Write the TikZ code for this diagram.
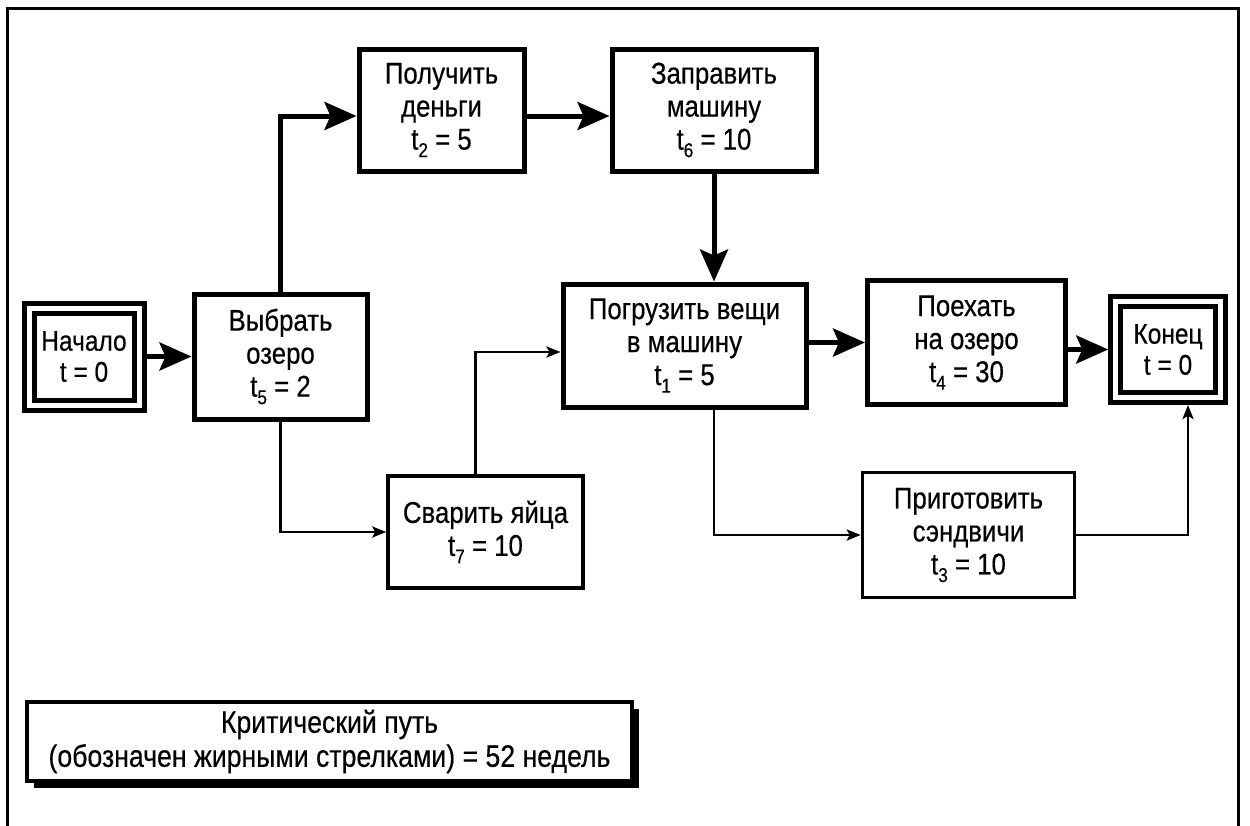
\documentclass[tikz,border=0pt]{standalone}
\usepackage{fontspec}
\setmainfont{Liberation Sans}[FakeStretch=0.86,FakeBold=0.4]
\usetikzlibrary{arrows.meta,shadows}
% duration label: t with a lowered index
\newcommand\tsub[1]{t\raisebox{-0.25em}{\fontsize{20}{20}\selectfont #1}}

\begin{document}
\begin{tikzpicture}[x=1pt,y=-1pt,
  every node/.style={inner sep=0pt, align=center, font=\fontsize{30}{33}\selectfont},
  boldbox/.style={draw, line width=5pt, fill=white},
  thinbox/.style={draw, line width=3.5pt, fill=white},
  termbox/.style={draw, line width=5pt, double, double distance=5pt, outer sep=7.5pt,
                  font=\fontsize{28.5}{31}\selectfont},
  crit/.style={line width=5pt, -{Stealth[length=32pt,width=28pt,inset=6pt]}},
  side/.style={line width=2.5pt, -{Stealth[length=14pt,width=11pt,inset=3pt]}},
]
\useasboundingbox (0,0) rectangle (1250,825);

% open frame
\draw[line width=3pt] (7,830) -- (7,8) -- (1238,8) -- (1238,830);

% activities
\node[termbox, minimum width=110pt, minimum height=97pt] (start) at (84,356.5) {Начало\\t = 0};
\node[boldbox, minimum width=173pt, minimum height=125pt] (choose) at (280.5,356.5) {Выбрать\\озеро\\\tsub{5} = 2};
\node[boldbox, minimum width=165pt, minimum height=122pt] (money) at (441.5,110) {Получить\\деньги\\\tsub{2} = 5};
\node[boldbox, minimum width=204pt, minimum height=122pt] (fuel) at (714,110) {Заправить\\машину\\\tsub{6} = 10};
\node[boldbox, minimum width=243pt, minimum height=123pt] (load) at (684.5,345.5) {Погрузить вещи\\в машину\\\tsub{1} = 5};
\node[boldbox, minimum width=198pt, minimum height=124pt] (drive) at (966.5,342.5) {Поехать\\на озеро\\\tsub{4} = 30};
\node[termbox, minimum width=104.5pt, minimum height=96pt] (end) at (1168,349.5) {Конец\\t = 0};
\node[thinbox, minimum width=195pt, minimum height=112pt] (eggs) at (485.5,532) {Сварить яйца\\\tsub{7} = 10};
\node[thinbox, minimum width=212pt, minimum height=125pt] (sandw) at (968.5,535) {Приготовить\\сэндвичи\\\tsub{3} = 10};

% legend
\node[thinbox, line width=4pt, minimum width=605pt, minimum height=79pt,
      font=\fontsize{31}{34}\selectfont,
      drop shadow={shadow xshift=7pt, shadow yshift=-7pt, fill=black, opacity=1}]
      (note) at (329.5,741.5) {Критический путь\\(обозначен жирными стрелками) = 52 недель};

% critical path
\draw[crit] (start.east) -- (choose.west);
\draw[crit] (choose.north) |- ([yshift=-6pt]money.west);
\draw[crit] ([yshift=-6pt]money.east) -- ([yshift=-6pt]fuel.west);
\draw[crit] (fuel.south) -- (fuel.south |- load.north);
\draw[crit] (load.east |- drive.west) -- (drive.west);
\draw[crit] (drive.east |- end.west) -- (end.west);

% other dependencies
\draw[side] (choose.south) |- (eggs.west);
\draw[side] ([xshift=-10pt]eggs.north) |- ([yshift=-6.5pt]load.west);
\draw[side] (fuel.south |- load.south) |- (sandw.west);
\draw[side] (sandw.east) -| ([xshift=20pt]end.south);
\end{tikzpicture}
\end{document}
